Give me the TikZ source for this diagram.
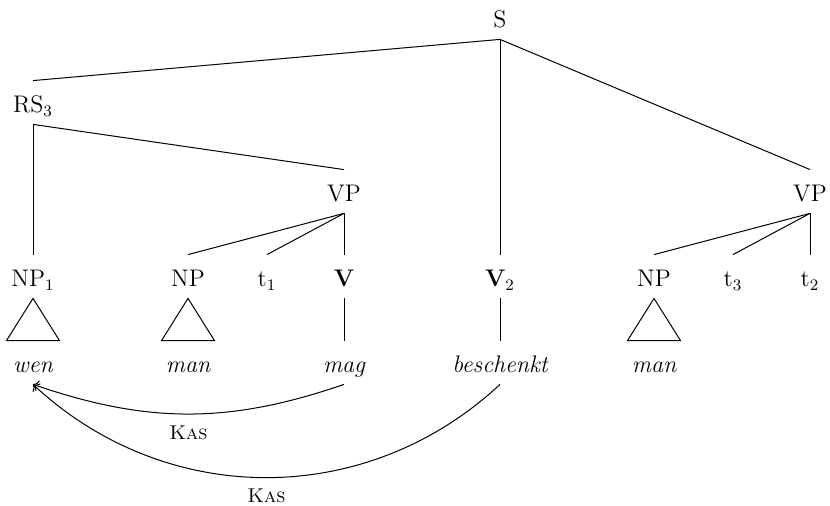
\documentclass[tikz,border=0pt,12pt]{standalone}
\usepackage{amsmath}
\usepackage{tikz}
\usetikzlibrary{positioning, arrows, arrows.meta}
\tikzset{
  tr cat/.style={inner sep=0pt, text height=16pt, text depth=5.5pt, anchor=base},
  tr word/.style={tr cat, font=\itshape},
  tr edge/.style={draw=black, line width=0.5pt},
  tr arc/.style={draw=black, ->, line width=0.5pt},
  tr lab/.style={font=\footnotesize\scshape, below=1.5pt},
}

\begin{document}
\begin{tikzpicture}[x=0.5pt, y=-0.5pt]
 \useasboundingbox (0,0) rectangle (830,506);
 % categories
 \node[tr cat] (s) at (500,28) {S};
 \node[tr cat] (rs) at (33,113) {RS$_3$};
 \node[tr cat] (vpl) at (344,202) {VP};
 \node[tr cat] (vpr) at (810,202) {VP};
 \node[tr cat] (np1) at (33,287) {NP$_1$};
 \node[tr cat] (npl) at (188,287) {NP};
 \node[tr cat] (tone) at (267,287) {t$_1$};
 \node[tr cat] (vl) at (344,287) {\textbf{V}};
 \node[tr cat] (vtwo) at (500,287) {\textbf{V}$_2$};
 \node[tr cat] (npr) at (654,287) {NP};
 \node[tr cat] (tthree) at (733,287) {t$_3$};
 \node[tr cat] (ttwo) at (810,287) {t$_2$};
 % words
 \node[tr word] (wen) at (33,373) {wen};
 \node[tr word] (manl) at (188,373) {man};
 \node[tr word] (mag) at (344,373) {mag};
 \node[tr word] (beschenkt) at (500,373) {beschenkt};
 \node[tr word] (manr) at (654,373) {man};

 \draw[tr edge] (s.south)--(rs.north);
 \draw[tr edge] (s.south)--(vtwo.north);
 \draw[tr edge] (s.south)--(vpr.north);
 \draw[tr edge] (rs.south)--(np1.north);
 \draw[tr edge] (rs.south)--(vpl.north);
 \foreach \n in {npl,tone,vl}
   \draw[tr edge] (vpl.south)--(\n.north);
 \foreach \n in {npr,tthree,ttwo}
   \draw[tr edge] (vpr.south)--(\n.north);
 \draw[tr edge] (vl.south)--(mag.north);
 \draw[tr edge] (vtwo.south)--(beschenkt.north);
 \foreach \n/\w in {np1/wen,npl/manl,npr/manr}
   \draw[tr edge] (\n.south)--([xshift=-13.25pt]\w.north)
     --([xshift=13.25pt]\w.north)--cycle;

 \draw[tr arc] (mag.south) to[bend left=19]
   node[midway, tr lab] (kasone) {Kas} (wen.south);
 \draw[tr arc] (beschenkt.south) to[bend left=43]
   node[midway, tr lab] (kastwo) {Kas} (wen.south);
\end{tikzpicture}
\end{document}
